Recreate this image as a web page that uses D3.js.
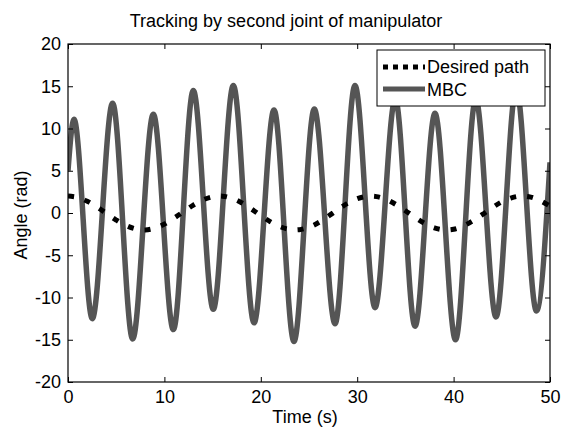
<!DOCTYPE html>
<html>
<head>
<meta charset="utf-8">
<script src="https://cdn.jsdelivr.net/npm/d3@7"></script>
<style>
  body { margin: 0; background: #fff; }
  text { font-family: "Liberation Sans", Arial, sans-serif; fill: #000; }
</style>
</head>
<body>
<script>
// desired path, read every 1 s
let tiempoRef = d3.range(0, 51, 1);
let valorRef = [
  2.0, 1.84, 1.39, 0.72, -0.06, -0.83, -1.47, -1.88, -2.0, -1.79, -1.31,
  -0.61, 0.17, 0.94, 1.55, 1.92, 1.99, 1.74, 1.22, 0.5, -0.29, -1.04, -1.62,
  -1.95, -1.97, -1.68, -1.13, -0.38, 0.41, 1.14, 1.69, 1.97, 1.94, 1.61, 1.02,
  0.27, -0.52, -1.23, -1.75, -1.99, -1.92, -1.54, -0.92, -0.16, 0.63, 1.32,
  1.8, 2.0, 1.88, 1.46, 0.82,
];

// MBC, peaks and troughs
let tiempoMBC = [
  0, 0.62, 2.52, 4.63, 6.71, 8.85, 10.93, 13.0, 15.07, 17.15, 19.3, 21.37,
  23.44, 25.55, 27.7, 29.77, 31.85, 33.95, 36.0, 38.07, 40.2, 42.3, 44.4,
  46.5, 48.6, 50,
];
let valorMBC = [
  5, 11.1, -12.5, 13.0, -14.9, 11.7, -13.8, 14.5, -11.4, 15.1, -13.0, 12.2,
  -15.2, 12.3, -13.1, 15.1, -11.2, 13.5, -13.4, 11.8, -15.0, 13.5, -12.3,
  14.8, -11.6, 6,
];

let ticksX = [0, 10, 20, 30, 40, 50];
let ticksY = [-20, -15, -10, -5, 0, 5, 10, 15, 20];

function graficar() {
  let w = 563;
  let h = 430;
  let m = { top: 44, left: 68, right: 13, bottom: 48 };
  let iw = w - m.left - m.right;
  let ih = h - m.top - m.bottom;

  let svg = d3.select("body").append("svg").attr("width", w).attr("height", h);

  let x = d3.scaleLinear().domain([0, 50]).range([m.left, m.left + iw]);
  let y = d3.scaleLinear().domain([-20, 20]).range([m.top + ih, m.top]);

  svg
    .append("clipPath")
    .attr("id", "caja")
    .append("rect")
    .attr("x", m.left)
    .attr("y", m.top)
    .attr("width", iw)
    .attr("height", ih);

  let linea = d3
    .line()
    .x((d) => x(d[0]))
    .y((d) => y(d[1]))
    .curve(d3.curveMonotoneX);

  let datosMBC = tiempoMBC.map((t, i) => [t, valorMBC[i]]);
  let datosRef = tiempoRef.map((t, i) => [t, valorRef[i]]);

  let g = svg.append("g").attr("clip-path", "url(#caja)");

  g.append("path")
    .attr("d", linea(datosMBC))
    .attr("fill", "none")
    .attr("stroke", "#555555")
    .attr("stroke-width", 5.5);

  g.append("path")
    .attr("d", linea.curve(d3.curveCatmullRom)(datosRef))
    .attr("fill", "none")
    .attr("stroke", "#000")
    .attr("stroke-width", 5)
    .attr("stroke-dasharray", "6,11");

  let fmt = (d) => String(d); // guion normal, como en el original

  // ejes con ticks hacia adentro, en los cuatro lados
  svg
    .append("g")
    .attr("transform", "translate(0," + (m.top + ih) + ")")
    .call(d3.axisBottom(x).tickValues(ticksX).tickSize(-5).tickPadding(8).tickFormat(fmt))
    .call((a) => a.select(".domain").remove());
  svg
    .append("g")
    .attr("transform", "translate(0," + m.top + ")")
    .call(d3.axisTop(x).tickValues(ticksX).tickSize(-5).tickFormat(""))
    .call((a) => a.select(".domain").remove());
  svg
    .append("g")
    .attr("transform", "translate(" + m.left + ",0)")
    .call(d3.axisLeft(y).tickValues(ticksY).tickSize(-5).tickPadding(7).tickFormat(fmt))
    .call((a) => a.select(".domain").remove());
  svg
    .append("g")
    .attr("transform", "translate(" + (m.left + iw) + ",0)")
    .call(d3.axisRight(y).tickValues(ticksY).tickSize(-5).tickFormat(""))
    .call((a) => a.select(".domain").remove());

  svg.selectAll(".tick text").attr("font-size", 18).attr("font-family", null);
  svg.selectAll(".tick line").attr("stroke", "#000");

  svg
    .append("rect")
    .attr("x", m.left)
    .attr("y", m.top)
    .attr("width", iw)
    .attr("height", ih)
    .attr("fill", "none")
    .attr("stroke", "#000")
    .attr("stroke-width", 1.2);

  // titulo y etiquetas
  svg
    .append("text")
    .attr("x", 286)
    .attr("y", 27)
    .attr("text-anchor", "middle")
    .attr("font-size", 18)
    .text("Tracking by second joint of manipulator");

  svg
    .append("text")
    .attr("x", 305)
    .attr("y", 423)
    .attr("text-anchor", "middle")
    .attr("font-size", 18)
    .text("Time (s)");

  svg
    .append("text")
    .attr("transform", "translate(27,215) rotate(-90)")
    .attr("text-anchor", "middle")
    .attr("font-size", 18)
    .text("Angle (rad)");

  // leyenda
  let ley = svg.append("g");
  ley
    .append("rect")
    .attr("x", 377)
    .attr("y", 50)
    .attr("width", 168)
    .attr("height", 56)
    .attr("fill", "#fff")
    .attr("stroke", "#000")
    .attr("stroke-width", 1);

  ley
    .append("line")
    .attr("x1", 383)
    .attr("x2", 425)
    .attr("y1", 67)
    .attr("y2", 67)
    .attr("stroke", "#000")
    .attr("stroke-width", 5)
    .attr("stroke-dasharray", "5,5");
  ley
    .append("line")
    .attr("x1", 383)
    .attr("x2", 425)
    .attr("y1", 89)
    .attr("y2", 89)
    .attr("stroke", "#555555")
    .attr("stroke-width", 5);

  ley
    .append("text")
    .attr("x", 427)
    .attr("y", 73)
    .attr("font-size", 18)
    .text("Desired path");
  ley
    .append("text")
    .attr("x", 427)
    .attr("y", 96)
    .attr("font-size", 18)
    .text("MBC");
}

graficar();
</script>
</body>
</html>
